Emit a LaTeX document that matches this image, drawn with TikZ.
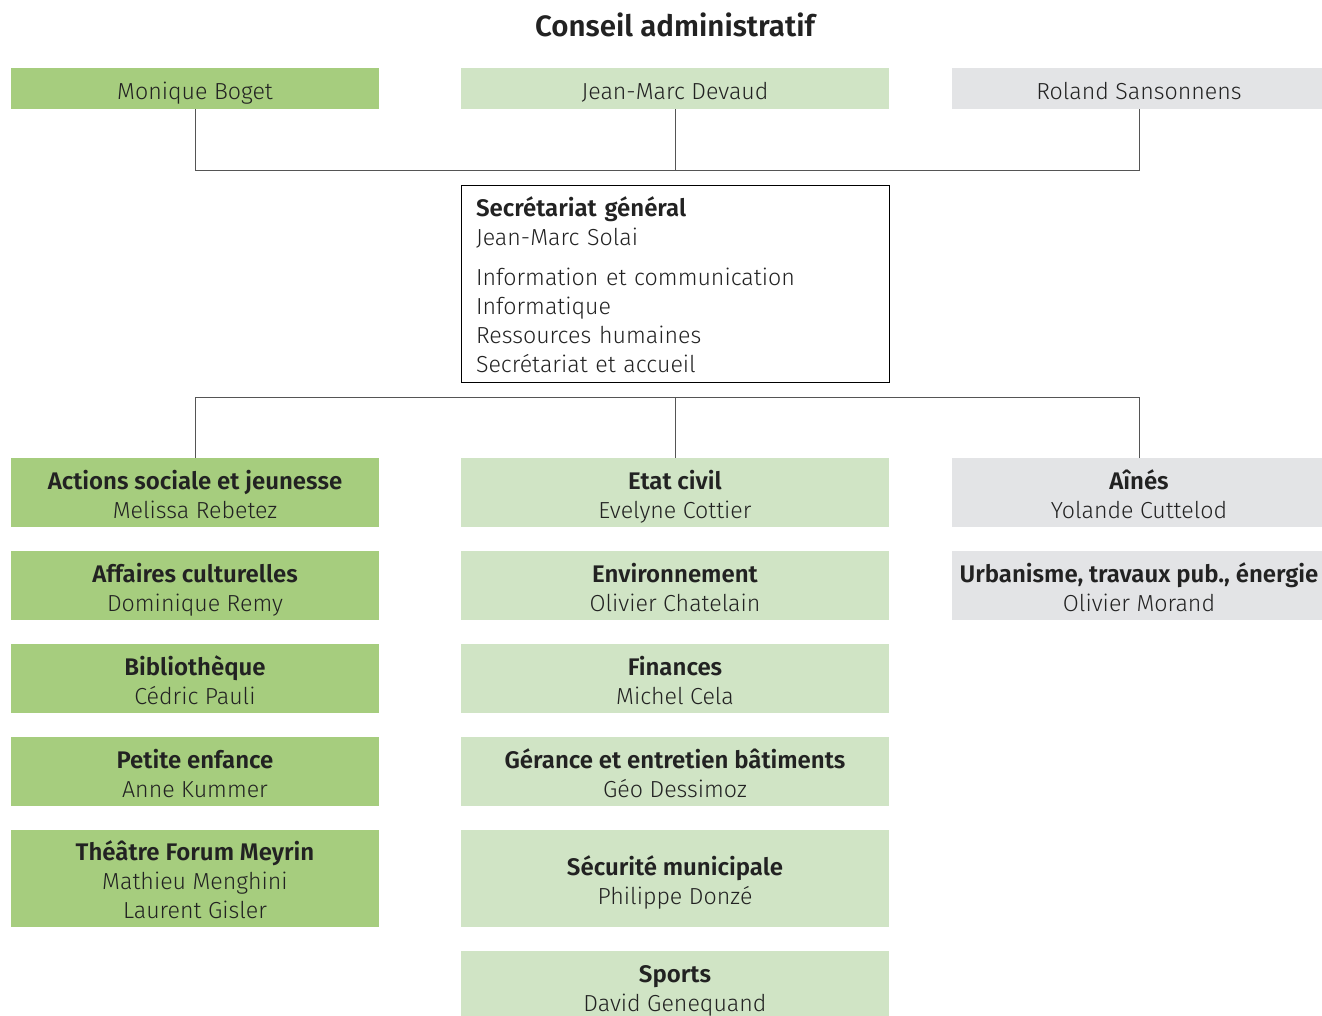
\documentclass[tikz,border=0pt]{standalone}
\usepackage{fontspec}
\setmainfont{Fira Sans}[UprightFont=* Light, BoldFont=* SemiBold]
\definecolor{dgreen}{HTML}{A6CD7E}
\definecolor{lgreen}{HTML}{D0E4C5}
\definecolor{lgrey}{HTML}{E3E4E6}
\definecolor{linec}{HTML}{555555}
\definecolor{txt}{HTML}{222222}
\newcommand{\topstrut}{\rule{0pt}{22pt}}
\newcommand{\headtxt}[1]{\topstrut{\fontsize{24}{29}\selectfont\bfseries #1}}
\begin{document}
\begin{tikzpicture}[x=1pt,y=-1pt,
 base/.style={rectangle, inner sep=0pt, outer sep=0pt, anchor=north west, text=txt, font=\fontsize{23.2}{29}\selectfont},
 box/.style={base, align=center, text depth=0pt},
 colA/.style={box, fill=dgreen, minimum width=368pt},
 colB/.style={box, fill=lgreen, minimum width=428pt},
 colC/.style={box, fill=lgrey, minimum width=374pt},
 hone/.style={minimum height=41pt},
 htwo/.style={minimum height=69pt},
 hthree/.style={minimum height=97pt},
 secbox/.style={base, draw=black, line width=1pt, fill=white, minimum width=428pt, minimum height=197pt, align=left, inner xsep=15pt, text width=398pt},
 conn/.style={draw=linec, line width=1pt}]
\clip (0,0) rectangle (1322,1015);
\node[font=\fontsize{29.5}{32}\selectfont\bfseries, text=txt] (title) at (675,25) {Conseil administratif};
% council
\node[colA, hone] (mon) at (11,68) {\topstrut Monique Boget};
\node[colB, hone] (jmd) at (461,68) {\topstrut Jean-Marc Devaud};
\node[colC, hone] (rol) at (952,68) {\topstrut Roland Sansonnens};
% secretariat
\node[secbox] (sec) at (461,185)
 {\headtxt{Secrétariat général}\\ Jean-Marc Solai\\[11pt] Information et communication\\ Informatique\\ Ressources humaines\\ Secrétariat et accueil};
% column A
\node[colA, htwo] (a1) at (11,458) {\headtxt{Actions sociale et jeunesse}\\ Melissa Rebetez};
\node[colA, htwo] (a2) at (11,551) {\headtxt{Affaires culturelles}\\ Dominique Remy};
\node[colA, htwo] (a3) at (11,644) {\headtxt{Bibliothèque}\\ Cédric Pauli};
\node[colA, htwo] (a4) at (11,737) {\headtxt{Petite enfance}\\ Anne Kummer};
\node[colA, hthree] (a5) at (11,830) {\headtxt{Théâtre Forum Meyrin}\\ Mathieu Menghini\\ Laurent Gisler};
% column B
\node[colB, htwo] (b1) at (461,458) {\headtxt{Etat civil}\\ Evelyne Cottier};
\node[colB, htwo] (b2) at (461,551) {\headtxt{Environnement}\\ Olivier Chatelain};
\node[colB, htwo] (b3) at (461,644) {\headtxt{Finances}\\ Michel Cela};
\node[colB, htwo] (b4) at (461,737) {\headtxt{Gérance et entretien bâtiments}\\ Géo Dessimoz};
\node[colB, hthree] (b5) at (461,830) {\headtxt{Sécurité municipale}\\ Philippe Donzé};
\node[colB, htwo] (b6) at (461,951) {\headtxt{Sports}\\ David Genequand};
% column C
\node[colC, htwo] (c1) at (952,458) {\headtxt{Aînés}\\ Yolande Cuttelod};
\node[colC, htwo] (c2) at (952,551) {\headtxt{Urbanisme, travaux pub., énergie}\\ Olivier Morand};
% connectors
\coordinate (barone) at (675,170);
\coordinate (bartwo) at (675,397);
\draw[conn] (mon.south) |- (barone);
\draw[conn] (rol.south) |- (barone);
\draw[conn] (jmd.south) -- (barone);
\draw[conn] (a1.north) |- (bartwo);
\draw[conn] (c1.north) |- (bartwo);
\draw[conn] (b1.north) -- (bartwo);
\end{tikzpicture}
\end{document}
